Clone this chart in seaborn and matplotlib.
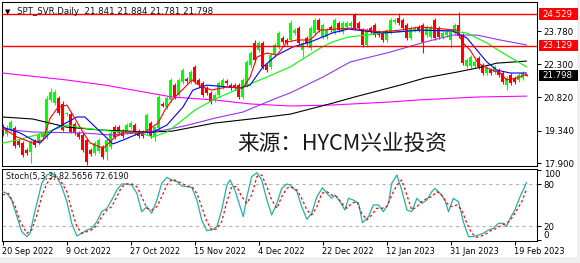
import matplotlib
matplotlib.use("Agg")
import matplotlib.pyplot as plt
import matplotlib.transforms as mtransforms
from matplotlib.patches import Rectangle
import numpy as np
import pandas as pd
import seaborn as sns

# ---------------- data ----------------
open_ = [19.50,19.19,19.37,19.46,18.88,18.79,18.48,18.39,18.88,18.84,
         19.06,19.06,20.71,20.57,20.80,20.53,20.08,20.08,19.64,19.24,
         19.15,18.92,18.48,18.35,18.43,18.61,18.39,18.61,19.50,19.50,
         19.32,19.28,19.50,19.59,19.32,19.28,19.24,19.68,19.06,19.46,
         20.53,20.39,20.71,21.37,20.93,21.51,21.64,21.51,22.18,21.60,
         21.46,21.24,21.02,20.71,20.93,21.29,21.55,21.37,21.37,21.37,
         20.84,21.37,22.27,23.25,22.93,23.25,22.27,22.18,22.71,23.07,
         23.47,23.38,23.38,23.69,23.91,22.93,23.47,23.02,23.69,24.27,
         23.51,23.51,23.96,23.74,24.14,23.74,23.96,24.00,24.49,24.14,
         23.82,23.16,23.91,24.05,23.74,23.69,23.38,23.74,24.18,24.36,
         24.27,24.05,23.47,23.82,23.96,24.05,23.60,23.51,24.27,23.91,
         23.51,23.60,23.38,23.69,24.05,23.60,22.22,22.22,22.22,22.58,
         22.27,21.91,22.04,21.95,22.04,21.91,21.37,21.82,21.69,21.60,
         21.69,21.841]
high_ = [19.64,19.59,19.82,19.55,18.97,18.88,18.57,18.92,18.97,19.24,
         19.28,20.88,21.24,21.15,20.88,20.66,20.17,20.17,19.73,19.32,
         19.24,19.01,18.57,18.88,19.01,18.70,19.01,19.32,19.59,19.59,
         19.41,19.68,19.77,19.68,19.41,19.37,20.13,19.77,19.55,20.93,
         20.62,20.88,21.69,21.46,21.69,22.13,21.73,22.04,22.27,21.69,
         21.55,21.33,21.11,21.02,21.55,21.69,21.64,21.46,21.46,21.46,
         21.69,22.49,22.89,23.38,23.34,23.34,22.35,22.80,23.25,23.78,
         23.56,23.47,24.27,23.91,24.00,23.34,23.56,24.00,24.36,24.36,
         24.14,23.91,24.05,24.36,24.23,24.23,24.23,24.23,24.58,24.23,
         23.91,23.91,24.00,24.14,23.82,23.78,23.87,24.36,24.36,24.58,
         24.36,24.14,24.00,24.00,24.05,24.14,24.05,24.05,24.36,24.00,
         23.78,23.82,23.82,24.14,24.62,23.69,22.58,22.71,22.49,22.67,
         22.35,22.22,22.13,22.27,22.13,22.00,21.78,21.91,21.78,21.91,
         22.00,21.884]
low_ = [19.10,19.10,19.28,18.57,18.61,18.17,18.26,17.90,18.61,18.70,
        18.97,18.97,20.62,20.48,20.04,19.32,19.99,19.24,19.15,18.97,
        18.39,17.81,18.21,18.26,18.35,18.08,18.03,18.52,18.97,19.15,
        19.01,19.19,19.41,19.15,19.01,19.01,19.15,19.01,18.88,19.37,
        20.39,20.30,20.62,20.75,20.84,21.42,21.46,21.42,21.42,21.28,
        20.84,20.93,20.53,20.62,20.84,21.20,21.37,21.15,21.15,20.75,
        20.75,21.28,22.18,22.40,22.84,22.09,21.95,22.09,22.62,22.98,
        23.20,23.16,23.29,23.60,23.16,22.62,23.16,22.93,23.60,23.74,
        23.42,23.42,23.74,23.65,23.74,23.65,23.87,23.91,23.82,23.82,
        23.07,23.07,23.65,23.51,23.51,23.29,23.29,23.65,24.09,24.05,
        23.82,23.38,23.38,23.74,23.74,22.80,23.51,23.42,23.38,23.42,
        23.42,23.51,23.02,23.60,23.47,22.27,22.13,22.13,22.13,22.09,
        21.82,21.82,21.82,21.86,21.73,21.42,21.15,21.37,21.42,21.51,
        21.60,21.781]
close_ = [19.24,19.46,19.73,18.66,18.70,18.26,18.35,18.84,18.70,19.15,
          19.19,20.75,21.06,21.06,20.13,19.37,20.13,19.28,19.24,19.06,
          18.48,17.94,18.30,18.79,18.92,18.17,18.92,19.24,19.06,19.24,
          19.10,19.59,19.68,19.24,19.10,19.10,20.04,19.10,19.50,20.84,
          20.44,20.80,21.60,20.84,21.60,22.04,21.55,21.95,21.51,21.37,
          20.93,21.02,20.62,20.93,21.46,21.60,21.46,21.24,21.24,20.84,
          21.60,22.40,22.80,22.49,23.25,22.18,22.04,22.71,23.16,23.69,
          23.29,23.25,24.14,23.82,23.25,23.25,23.25,23.91,24.27,23.82,
          24.05,23.82,23.82,24.27,23.82,24.14,24.14,24.14,23.91,23.91,
          23.16,23.82,23.74,23.60,23.60,23.38,23.82,24.27,24.27,24.14,
          23.91,23.47,23.91,23.91,23.82,23.29,23.96,23.96,23.47,23.51,
          23.69,23.74,23.74,24.05,23.56,22.35,22.49,22.62,22.40,22.18,
          21.91,22.13,21.91,22.18,21.82,21.51,21.69,21.46,21.51,21.82,
          21.91,21.798]

# moving averages (bar position, price)
red_x = [0,3.6,7.6,10.1,11.9,13.9,16.1,17.6,20.1,21.9,24.4,25.6,28.1,30.6,35.6,
         38.9,40.6,42.4,44.9,47.4,49.9,52.4,56.1,60.1,61.9,63.6,66.1,68.6,71.1,73.6,
         76.9,79.4,86.9,94.4,99.4,104.4,113.6,115.1,116.9,118.9,121.1,124.4,126.1,128.6,131]
red_y = [19.46,19.06,18.79,18.92,19.90,20.39,20.48,20.04,19.28,18.79,18.61,18.61,19.06,19.28,19.28,
         19.68,20.26,20.71,21.15,21.60,21.29,21.15,21.29,21.24,21.73,22.62,22.80,22.71,23.29,23.38,
         23.38,23.82,23.91,23.74,23.82,23.96,23.82,23.25,22.93,22.35,22.13,21.91,21.60,21.69,21.86]
blue_x = [0,4.4,7.6,9.4,12.6,18.6,20.6,26.1,27.6,30.1,34.4,37.6,41.1,45.1,47.6,
          51.1,56.1,59.4,61.9,65.1,68.6,72.6,76.9,79.4,82.4,86.4,94.9,104.4,112.6,116.1,
          118.6,121.1,123.6,126.9,131]
blue_y = [19.50,19.24,18.92,18.79,19.37,19.95,19.95,19.01,18.75,18.92,19.24,19.28,19.59,20.39,21.15,
          21.37,21.29,21.24,21.37,22.18,22.71,23.07,23.29,23.47,23.69,23.87,23.69,23.82,23.78,23.47,
          22.93,22.40,22.04,21.91,21.91]
green_x = [0,3.6,11.1,16.1,20.1,26.9,34.4,37.6,41.1,44.4,48.1,53.1,60.1,66.1,71.9,
           79.4,82.4,86.4,94.9,105.6,112.6,116.1,121.1,125.1,131]
green_y = [18.79,18.92,19.28,19.59,19.46,19.32,19.24,19.06,19.28,19.73,20.26,20.75,21.29,21.73,22.18,
           23.02,23.29,23.51,23.69,23.82,23.78,23.69,23.25,22.80,22.18]
purple_x = [0,7.6,20.1,26.9,33.9,40.6,46.4,53.1,60.1,68.6,71.9,80.1,86.9,96.9,105.6,112.6,118.6,124.4,131]
purple_y = [19.41,19.28,19.24,19.15,19.24,19.37,19.59,19.90,20.17,20.80,21.02,21.73,22.40,22.84,23.29,
            23.60,23.60,23.38,23.16]
black_x = [0,7.6,16,24.4,37,42.4,53,62,72,82.6,88,99.4,105.6,113.6,118.6,123.6,131]
black_y = [19.95,19.86,19.50,19.37,19.28,19.32,19.68,19.86,20.08,20.57,20.84,21.37,21.69,21.95,
           22.13,22.35,22.44]
magenta_x = [0,16,25.6,32.6,42.4,53,62,72,82,97,104,118.6,131]
magenta_y = [21.91,21.60,21.37,21.15,20.84,20.71,20.53,20.44,20.48,20.62,20.71,20.84,20.88]

# stochastic (5,3,3)
k_x = [0,1.1,2.3,3.6,4.8,6.1,6.9,7.7,9,9.8,11.1,12.3,13.6,14.8,16.1,17.3,18.6,19.8,21.1,22.3,
       23.6,24.8,26.1,27.3,28.6,29.8,31.1,32.3,33.6,34.8,36.1,37.3,38.6,39.8,41.1,42.3,43.6,44.8,
       46.1,47.3,48.6,49.8,51.1,52.3,53.6,54.8,56.1,56.9,58.1,59.4,60.2,61.1,62.3,63.6,64.8,66.1,
       67.3,68.6,69.8,71.1,71.9,
       73.6,74.8,76.1,77.3,78.6,80,81.1,82.3,83.1,84.4,85.6,86.5,87.7,89,90,91.5,92.7,94,95.2,96.5,
       97.3,98.6,99.8,101.1,102.3,103.6,104.8,106.1,107.3,108.1,109.4,110.6,111.5,112.7,114,115.2,
       116.5,117.7,119,120.2,121.5,122.7,124,125.2,126,126.9,128.1,129.4,130.2,131]
k_v = [69.5,67.1,57.6,33.8,12.4,5.2,10,31.4,62.4,81.4,93.3,95.7,91,76.6,55.2,24.3,6.2,10,14.8,17.1,
       26.7,40.9,45.7,57.6,71.9,80.5,80.5,79,67.1,40.9,48.1,38.6,57.6,81.4,90,86.2,83.8,77.6,
       76.6,75.7,57.6,29,13.8,14.8,19.5,43.3,79,86.2,71.9,48.1,33.8,62.4,91,96.6,86.2,57.6,
       36.2,52.9,74.3,80.5,79,
       69.5,48.1,30,38.6,62.4,75.2,67.1,60,64.7,55.2,43.3,60,57.6,52.9,25.2,33.8,50.5,50.5,40.9,52.9,
       81.4,93.3,71.9,43.3,40.9,60,52.9,57.6,69.5,74.3,67.1,57.6,40.9,60,55.2,26.7,
       5.2,5.2,7.6,10,14.8,17.1,24.3,24.3,19.5,31.4,43.3,62.4,71.9,82.5656]
d_x = [0,1.5,3.2,4.4,6.1,7.3,8.6,9.8,11.1,12.7,14.4,16.1,17.3,18.6,19.8,21.1,22.3,23.6,24.8,26.1,
       27.3,28.6,29.8,31.1,32.3,33.6,34.8,36.1,37.3,38.6,39.8,41.1,42.3,43.6,44.8,46.1,47.3,48.6,
       49.8,51.1,52.3,53.6,54.8,56.1,57.3,58.6,59.8,61.1,62.3,63.6,64.8,66.1,67.3,68.6,69.8,71.1,
       71.9,73.6,74.8,76.1,77.3,78.6,79.8,81.1,82.3,83.6,84.8,86.1,87.3,88.6,89.8,91.1,92.3,93.6,
       94.8,96.1,97.3,98.6,99.8,101.1,102.3,103.6,104.8,106.1,107.3,108.6,109.8,111.1,112.3,113.6,
       114.8,116.1,117.3,118.6,119.8,121.1,122.3,123.6,124.8,126.1,127.3,128.6,129.8,131]
d_v = [64.8,67,48,26.7,10,14.8,36.2,62.4,81.4,91.9,86.2,69.5,43.3,19.5,10,12.4,14.8,21.9,33.8,43.3,
       48.1,62.4,76.6,80.5,80.5,76.6,62.4,45.7,43.3,48.1,62.4,79,87.1,85.2,81.4,77.6,76.6,67.1,
       48.1,26.7,14.8,16.2,26.7,55.2,76.6,76.6,62.4,52.9,64.8,91,93.3,76.6,57.6,45.7,62.4,74.3,
       76.6,71.9,60,43.3,36.2,48.1,67.1,69.5,64.7,62.4,52.9,45.7,52.9,55.2,38.6,29,36.2,45.7,
       45.7,48.1,64.7,79,86.2,64.7,43.3,48.1,55.2,60,62.4,69.5,64.7,52.9,48.1,50.5,
       43.3,24.3,10,4.3,6.2,10,14.8,17.1,21.9,24.3,31.4,43.3,55.2,72.6190]

level_hi = 24.529
level_lo = 23.129
last_price = 21.798
price_ticks = [23.780, 22.300, 20.820, 19.340, 17.900]
stoch_ticks = [0, 20, 80, 100]
date_ticks = [0, 16, 32, 48, 64, 80, 96, 112, 128]
date_labels = ["20 Sep 2022", "9 Oct 2022", "27 Oct 2022", "15 Nov 2022", "4 Dec 2022",
               "22 Dec 2022", "12 Jan 2023", "31 Jan 2023", "19 Feb 2023"]
title = "SPT_SVR,Daily  21.841 21.884 21.781 21.798"
stoch_title = "Stoch(5,3,3) 82.5656 72.6190"
watermark = "来源：HYCM兴业投资"

# ---------------- style ----------------
sns.set_theme(style="white")
plt.rcParams['font.family'] = ['DejaVu Sans', 'Noto Sans CJK SC']
plt.rcParams['axes.linewidth'] = 0.75
plt.rcParams['axes.edgecolor'] = 'black'

W, H = 580, 263
fig = plt.figure(figsize=(W / 100, H / 100), dpi=100)
fig.patch.set_facecolor('white')


def rect(x0, y0, x1, y1):
    return [x0 / W, 1 - y1 / H, (x1 - x0) / W, (y1 - y0) / H]


ax = fig.add_axes(rect(1.7, 2.3, 536.7, 165.7))
ax2 = fig.add_axes(rect(1.7, 169, 536.7, 241))
for a in (ax, ax2):
    a.set_facecolor('white')
    for s in a.spines.values():
        s.set_color('black')
        s.set_linewidth(0.75)

# ---------------- candles ----------------
o = np.array(open_); h = np.array(high_); l = np.array(low_); c = np.array(close_)
bars = np.arange(len(c))
cols = np.where(c >= o, '#00ff00', '#ff0000')
ax.vlines(bars, l, h, colors=cols, lw=0.8, zorder=2)
ax.bar(bars, np.maximum(np.abs(c - o), 0.03), bottom=np.minimum(o, c), width=0.72,
       color=cols, linewidth=0, zorder=2)

# ---------------- moving averages ----------------
ma_sets = [("magenta", magenta_x, magenta_y), ("black", black_x, black_y),
           ("purple", purple_x, purple_y), ("green", green_x, green_y),
           ("blue", blue_x, blue_y), ("red", red_x, red_y)]
ma_df = pd.concat([pd.DataFrame({"bar": xs, "price": ys, "line": n}) for n, xs, ys in ma_sets],
                  ignore_index=True)
palette = {"magenta": "#ff00ff", "black": "#000000", "purple": "#9932f0",
           "green": "#00ff00", "blue": "#0000ff", "red": "#ff0000"}
sns.lineplot(data=ma_df, x="bar", y="price", hue="line", palette=palette, estimator=None,
             sort=False, legend=False, linewidth=0.8, ax=ax, zorder=3)

ax.axhline(level_hi, color='#ff0000', lw=1.0, zorder=4)
ax.axhline(level_lo, color='#ff0000', lw=1.0, zorder=4)

ax.set_xlim(-0.2, 133.55)
ax.set_ylim(17.78, 25.06)
ax.set_xticks([])
ax.set_xlabel("")
ax.set_ylabel("")
ax.yaxis.tick_right()
ax.set_yticks(price_ticks)
ax.set_yticklabels([f"{v:.3f}" for v in price_ticks])
ax.tick_params(axis='y', right=True, length=3, width=0.75, pad=2, labelsize=6.2,
               colors='black', direction='out')

# price boxes on the right
bt = mtransforms.blended_transform_factory(fig.transFigure, ax.transData)
box_h = 11.5 * (25.06 - 17.78) / 163.4
for val, fc in [(level_hi, '#ff0000'), (level_lo, '#ff0000'), (last_price, '#000000')]:
    fig.add_artist(Rectangle((539 / W, val - box_h / 2), 39 / W, box_h, transform=bt,
                             facecolor=fc, edgecolor='none', zorder=5))
    fig.text(542 / W, 0, f"{val:.3f}", transform=bt, color='white', fontsize=6.2,
             va='center', ha='left', zorder=6).set_y(val)

# ---------------- stochastic ----------------
k_df = pd.DataFrame({"bar": k_x, "value": k_v})
d_df = pd.DataFrame({"bar": d_x, "value": d_v})
ax2.axhline(80, color='#b4b4b4', lw=0.8, ls=(0, (3, 3)), zorder=1)
ax2.axhline(20, color='#b4b4b4', lw=0.8, ls=(0, (3, 3)), zorder=1)
sns.lineplot(data=k_df, x="bar", y="value", color='#20b2aa', linewidth=0.9, estimator=None,
             sort=False, ax=ax2, zorder=3)
sns.lineplot(data=d_df, x="bar", y="value", color='#ff0000', linewidth=0.9, estimator=None,
             sort=False, ax=ax2, zorder=3, linestyle=(0, (2, 2)))
ax2.set_xlim(-0.2, 133.55)
ax2.set_ylim(-1, 101.9)
ax2.set_xlabel("")
ax2.set_ylabel("")
ax2.yaxis.tick_right()
ax2.set_yticks(stoch_ticks)
ax2.set_yticklabels([str(v) for v in stoch_ticks])
ax2.tick_params(axis='y', right=True, length=3, width=0.75, pad=2, labelsize=6.2,
                colors='black', direction='out')
for lbl in ax2.get_yticklabels():
    if lbl.get_text() == "100":
        lbl.set_va('top')
    elif lbl.get_text() == "0":
        lbl.set_va('bottom')
ax2.set_xticks(date_ticks)
ax2.set_xticklabels(date_labels)
ax2.tick_params(axis='x', bottom=True, length=3, width=0.75, pad=1.5, labelsize=5.9,
                colors='black', direction='out')
for lbl in ax2.get_xticklabels():
    lbl.set_ha('left')

# ---------------- texts ----------------
fig.text(4.5 / W, 1 - 12 / H, "▼", fontsize=5, va='center', ha='left', color='black')
fig.text(17 / W, 1 - 11.5 / H, title, fontsize=6.2, va='center', ha='left', color='#101010')
fig.text(6 / W, 1 - 176.5 / H, stoch_title, fontsize=5.9, va='center', ha='left', color='#101010')
fig.text(237 / W, 1 - 144 / H, watermark, fontsize=15.6, va='center', ha='left',
         color='#1a1a1a', family=['Noto Sans CJK SC', 'DejaVu Sans'])

# window frame
fig.add_artist(Rectangle((0, 0), 1, 6.3 / H, transform=fig.transFigure,
                         facecolor='#f0f0f0', edgecolor='none', zorder=0))
fig.add_artist(Rectangle((577.3 / W, 0), 2.7 / W, 1, transform=fig.transFigure,
                         facecolor='#f0f0f0', edgecolor='none', zorder=0))

fig.savefig("out.png", dpi=100, facecolor='white')
